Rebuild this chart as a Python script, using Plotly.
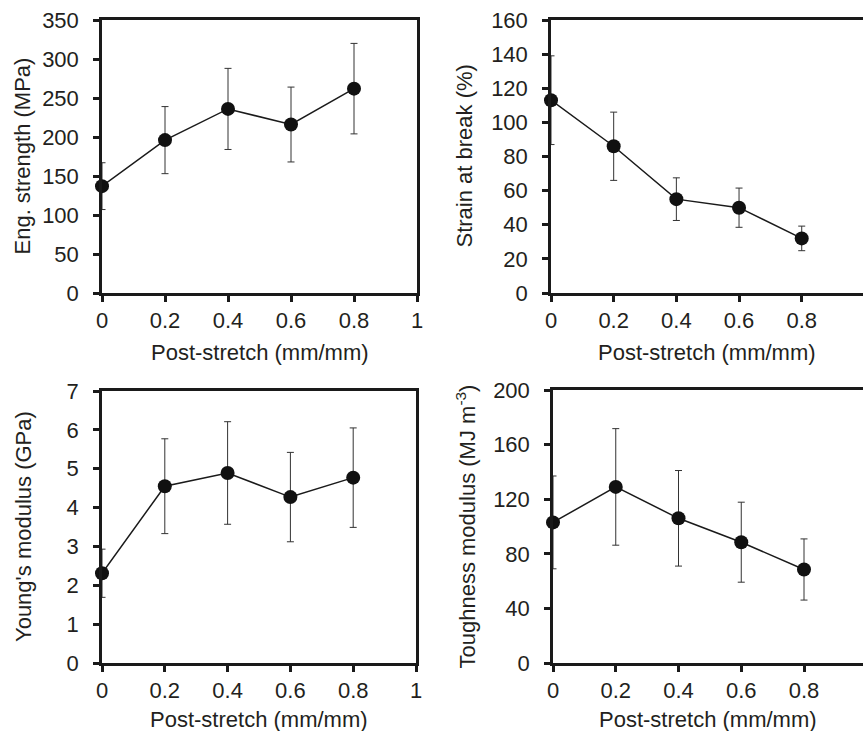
import plotly.graph_objects as go

# ---- data ----
post_stretch = [0, 0.2, 0.4, 0.6, 0.8]

eng_strength = [137, 196, 236, 216, 262]
eng_strength_err = [30, 43, 52, 48, 58]

strain_break = [113, 86, 55, 50, 32]
strain_break_err = [26, 20, 12.5, 11.5, 7.2]

youngs_modulus = [2.31, 4.55, 4.89, 4.27, 4.77]
youngs_modulus_err = [0.62, 1.22, 1.32, 1.15, 1.28]

toughness = [103, 129, 106, 88.5, 68.5]
toughness_err = [34, 42.7, 35, 29.3, 22.4]

x_ticks_full = [0, 0.2, 0.4, 0.6, 0.8, 1]
x_ticks_cut = [0, 0.2, 0.4, 0.6, 0.8]

x_title = "Post-stretch (mm/mm)"
y_titles = ["Eng. strength (MPa)", "Strain at break (%)",
            "Young's modulus (GPa)", "Toughness modulus (MJ m<sup>-3</sup>)"]

W, H = 863, 731
FONT = "Arial, 'Liberation Sans', Helvetica, sans-serif"
INK = "#1a1a1a"
TXT = "#231f20"
FS = 22

fig = go.Figure()

panels = [
    (eng_strength, eng_strength_err, "x", "y"),
    (strain_break, strain_break_err, "x2", "y2"),
    (youngs_modulus, youngs_modulus_err, "x3", "y3"),
    (toughness, toughness_err, "x4", "y4"),
]
for vals, errs, xa, ya in panels:
    fig.add_trace(go.Scatter(
        x=post_stretch, y=vals, xaxis=xa, yaxis=ya,
        mode="lines+markers",
        line=dict(color=INK, width=1.5),
        marker=dict(color="#111111", size=14),
        error_y=dict(type="data", array=errs, visible=True,
                     color="#333333", thickness=1, width=3.5),
        cliponaxis=False,
        showlegend=False,
        hoverinfo="skip",
    ))

def px_x(p):
    return p / W

def px_y(p):
    return 1 - p / H

common = dict(showgrid=False, zeroline=False, showline=True, linewidth=2.5,
              linecolor=INK, mirror=True, ticks="outside", ticklen=6,
              tickwidth=2.5, tickcolor=INK, automargin=False,
              tickfont=dict(family=FONT, size=FS, color=TXT))

xdoms = [(102, 417), (551, 863), (102, 416), (553, 863)]
xranges = [[0, 1], [0, 312 / 313.4], [0, 1], [0, 310 / 313.75]]
xticks = [x_ticks_full, x_ticks_cut, x_ticks_full, x_ticks_cut]
ydoms = [(20, 293), (20, 293), (391, 663), (390, 663)]
yranges = [[0, 350], [0, 160], [0, 7], [0, 200]]
ydticks = [50, 20, 1, 40]

layout = dict(width=W, height=H, margin=dict(l=0, r=0, t=0, b=0, pad=0),
              autosize=False,
              plot_bgcolor="white", paper_bgcolor="white", showlegend=False)

for i in range(4):
    sfx = "" if i == 0 else str(i + 1)
    layout["xaxis" + sfx] = dict(
        common, domain=[px_x(xdoms[i][0]), px_x(xdoms[i][1])],
        range=xranges[i], tickmode="array",
        tickvals=xticks[i],
        ticktext=[("%g" % v) for v in xticks[i]],
        anchor="y" + sfx, ticklabelstandoff=0)
    layout["yaxis" + sfx] = dict(
        common, domain=[px_y(ydoms[i][1]), px_y(ydoms[i][0])],
        range=yranges[i], dtick=ydticks[i], tick0=0,
        anchor="x" + sfx, ticklabelstandoff=10)

fig.update_layout(**layout)

ytitle_pos = [(22, 156.5), (464, 156.5), (23, 527), (465, 526.5)]
xtitle_pos = [(259.5, 352), (707, 352), (259, 719), (708, 719)]
for i in range(4):
    fig.add_annotation(text=y_titles[i], xref="paper", yref="paper",
                       x=px_x(ytitle_pos[i][0]), y=px_y(ytitle_pos[i][1]),
                       xanchor="center", yanchor="middle", textangle=-90,
                       showarrow=False,
                       font=dict(family=FONT, size=FS, color=TXT))
    fig.add_annotation(text=x_title, xref="paper", yref="paper",
                       x=px_x(xtitle_pos[i][0]), y=px_y(xtitle_pos[i][1]),
                       xanchor="center", yanchor="middle",
                       showarrow=False,
                       font=dict(family=FONT, size=FS, color=TXT))

fig.write_html(
    "out.html",
    config={"displayModeBar": False},
    post_script="document.body.style.margin='0';document.body.style.overflow='hidden';",
)
